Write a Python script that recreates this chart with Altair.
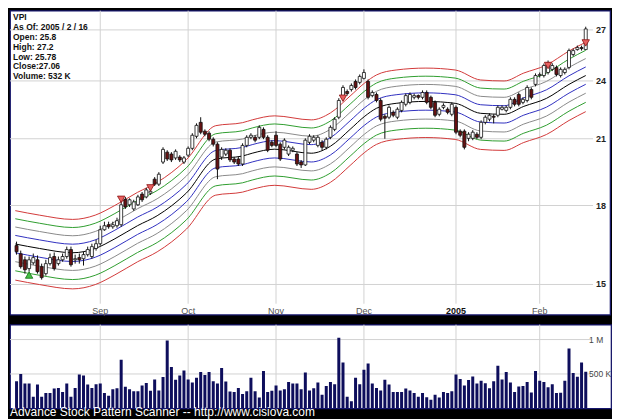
import altair as alt
import pandas as pd

# ---------------- data ----------------
days = list(range(1, 139))  # trading-day index (1 = 2004-08-03 ... 138 = 2005-02-16)

opens = [16.67,16.41,16.10,15.88,15.56,15.77,15.88,15.63,15.38,15.74,16.00,15.74,15.88,16.00,16.26,15.88,15.96,15.92,16.07,16.00,
         16.30,16.48,17.02,17.22,17.14,17.18,17.22,18.26,18.03,17.86,18.03,18.48,18.36,18.52,19.13,18.91,19.90,20.36,20.27,20.09,
         20.13,19.90,20.22,20.54,21.12,21.81,21.37,21.27,20.98,20.74,20.13,20.27,20.45,20.04,20.04,19.81,20.68,21.07,21.07,21.07,
         21.46,21.07,20.83,21.17,20.74,20.59,20.27,20.45,20.27,19.90,19.77,20.83,20.93,20.68,20.83,20.59,21.07,21.46,22.07,23.06,
         23.42,23.53,23.97,23.92,24.14,23.97,23.20,23.26,22.94,22.12,22.07,22.32,22.07,22.42,22.74,22.84,23.11,23.20,23.11,23.37,
         23.11,22.84,22.22,22.58,22.48,22.22,22.58,21.37,21.37,21.02,21.02,21.22,21.07,21.81,21.97,22.12,22.17,22.48,22.42,22.58,
         23.00,23.26,22.84,22.94,23.53,23.81,24.30,24.30,24.47,24.65,24.76,24.30,24.47,24.76,25.51,25.80,25.92,25.80]
closes = [16.10,16.18,15.63,15.52,15.88,15.96,15.45,15.24,15.74,15.96,15.56,15.88,16.00,16.26,15.70,15.92,15.88,16.07,16.26,16.37,
          16.48,17.02,17.18,17.14,17.22,17.38,18.03,17.94,18.24,18.15,18.36,18.24,18.66,18.60,18.91,19.35,20.49,20.04,20.00,20.40,
          20.00,20.09,20.54,21.17,21.66,21.32,21.22,20.98,20.74,19.58,20.49,20.45,20.00,19.90,19.81,20.68,21.07,21.17,20.93,21.56,
          21.07,20.45,20.68,20.68,20.04,20.93,20.59,20.54,19.81,19.77,20.93,21.12,21.07,21.07,20.59,20.98,21.56,21.97,22.94,23.64,
          23.31,23.75,23.64,24.25,24.47,23.11,23.37,22.94,21.97,22.02,22.58,22.17,22.48,22.84,23.20,23.26,23.20,23.11,23.37,22.84,
          22.58,22.17,22.48,22.68,22.32,22.74,21.32,21.17,20.59,21.22,21.32,21.07,21.81,22.07,22.17,22.07,22.58,22.58,22.58,23.00,
          22.74,22.74,23.00,23.64,23.11,24.30,24.36,24.87,25.04,24.87,24.36,24.65,24.65,25.74,25.74,25.92,25.86,27.06]
highs = [16.79,16.56,16.22,16.00,16.00,16.11,16.04,15.74,15.88,16.11,16.15,16.00,16.11,16.37,16.37,16.07,16.11,16.18,16.37,16.48,
         16.64,17.18,17.34,17.34,17.34,17.50,18.20,18.36,18.30,18.24,18.45,18.57,18.75,18.70,19.22,19.44,20.59,20.45,20.36,20.49,
         20.22,20.18,20.63,21.27,21.76,22.07,21.46,21.37,21.07,20.83,20.59,20.54,20.54,20.13,20.13,20.78,21.17,21.27,21.17,21.66,
         21.56,21.17,20.93,21.37,20.83,21.02,20.68,20.63,20.36,19.99,21.02,21.22,21.17,21.17,20.93,21.07,21.66,22.07,23.06,23.76,
         23.53,23.86,24.08,24.36,24.65,24.08,23.48,23.37,23.06,22.22,22.68,22.42,22.58,22.94,23.31,23.37,23.31,23.26,23.48,23.48,
         23.20,22.94,22.58,22.79,22.58,22.84,22.68,21.46,21.46,21.32,21.42,21.32,21.91,22.17,22.27,22.22,22.68,22.68,22.68,23.11,
         23.11,23.37,23.11,23.76,23.64,24.42,24.47,24.98,25.16,25.00,24.87,24.76,24.76,25.86,25.86,26.04,26.04,27.20]
lows = [16.00,16.07,15.56,15.38,15.45,15.70,15.38,15.17,15.31,15.67,15.49,15.67,15.81,15.92,15.63,15.74,15.74,15.67,16.00,15.92,
        16.22,16.41,16.98,17.06,17.06,17.10,17.14,17.86,17.94,17.78,17.98,18.15,18.30,18.45,18.83,18.83,19.81,19.95,19.90,20.00,
        19.90,19.81,20.13,20.45,21.02,21.22,21.12,20.88,20.63,19.13,20.00,20.18,19.90,19.81,19.72,19.72,20.59,20.98,20.83,20.98,
        20.98,20.36,20.59,20.59,19.95,20.49,20.18,20.36,19.72,19.63,19.72,20.74,20.83,20.59,20.45,20.49,20.98,21.37,21.97,22.94,
        23.20,23.42,23.53,23.81,24.08,23.00,23.11,22.84,21.86,21.00,21.97,22.07,21.97,22.32,22.63,22.74,23.00,23.00,23.00,22.74,
        22.48,22.07,22.12,22.48,22.22,22.12,21.22,21.07,20.49,20.88,20.93,20.98,20.98,21.71,21.86,21.76,22.07,22.42,22.32,22.48,
        22.63,22.63,22.74,22.84,23.00,23.70,24.19,24.19,24.36,24.55,24.25,24.19,24.36,24.65,25.40,25.74,25.74,25.78]
vol_k = [444,394,500,361,361,167,347,167,222,222,287,296,236,361,167,296,491,477,347,296,
         352,361,222,185,278,292,708,315,278,250,250,333,370,255,421,259,454,986,602,417,
         477,551,421,375,444,528,486,528,394,361,588,389,245,236,296,208,250,444,250,157,
         542,236,255,333,259,278,384,361,361,278,523,259,292,375,199,324,384,352,1028,667,
         167,102,444,352,560,653,361,296,259,417,347,236,236,236,287,259,222,167,222,162,
         125,199,157,236,222,250,491,426,333,412,463,361,403,366,292,394,620,421,528,375,
         236,319,324,384,231,542,403,384,306,352,222,227,403,870,514,458,667,532]

# moving-average centre line read at a few points, and envelope offsets (%)
mid_idx = [1.7, 7.5, 15.4, 20.8, 25.5, 30.9, 35.6, 42.6, 49.6, 56.0, 58.3, 63.7, 72.4, 77.0, 81.7, 85.2, 88.0,
           92.7, 99.8, 106.8, 112.9, 118.5, 123.2, 128.6, 134.0, 138]
mid_val = [16.47, 16.30, 16.14, 16.30, 16.67, 17.18, 17.58, 18.53, 20.04, 20.18, 20.31, 20.50, 20.31, 20.64, 21.46,
           22.12, 22.53, 22.79, 22.89, 22.79, 22.27, 22.22, 22.63, 23.05, 23.81, 24.30]
band_pct = [8, 6, 4, 2, 0, -2, -4, -6, -8]
band_col = ["#d23a3a", "#2f9e2f", "#8a8a8a", "#3030c0", "#000000", "#3030c0", "#8a8a8a", "#2f9e2f", "#d23a3a"]

sig_down_idx = [27, 34, 80, 129, 138]
sig_down_val = [18.26, 18.75, 23.06, 24.87, 26.20]
sig_up_idx = [5]
sig_up_val = [15.33]

month_idx = [22, 43, 64, 85, 107, 127]
month_names = ["Sep", "Oct", "Nov", "Dec", "2005", "Feb"]
price_ticks = [15, 18, 21, 24, 27]
vol_ticks = [500, 1000]
vol_tick_labels = ["500 K", "1 M"]
info_lines = ["VPI", "As Of: 2005 / 2 / 16", "Open: 25.8", "High: 27.2", "Low: 25.78", "Close:27.06", "Volume: 532 K"]
footer = "Advance Stock Pattern Scanner -- http://www.cisiova.com"

# ---------------- tables ----------------
candles = pd.DataFrame({"i": days, "o": opens, "h": highs, "l": lows, "c": closes, "v": vol_k})
candles["lo"] = candles[["o", "c"]].min(axis=1)
candles["hi"] = candles[["o", "c"]].max(axis=1)
candles["dir"] = ["up" if c >= o else "down" for o, c in zip(opens, closes)]

band_rows = []
for p in band_pct:
    for i, m in zip(mid_idx, mid_val):
        band_rows.append({"i": i, "val": m * (1 + p / 100.0), "pct": p})
bands = pd.DataFrame(band_rows)

months = pd.DataFrame({"i": month_idx, "name": month_names,
                       "bold": [n == "2005" for n in month_names]})
pticks = pd.DataFrame({"p": price_ticks, "lab": [str(t) for t in price_ticks]})
vticks = pd.DataFrame({"v": vol_ticks, "lab": vol_tick_labels})
sdown = pd.DataFrame({"i": sig_down_idx, "p": sig_down_val})
sup = pd.DataFrame({"i": sig_up_idx, "p": sig_up_val})
info = pd.DataFrame({"t": ["\n".join(info_lines)]})
foot = pd.DataFrame({"t": [footer]})

PW, PH = 602, 305
VW, VH = 603, 84
PX = 4.27  # pixels per trading day
x0 = 1.625  # first visible trading-day position at the left edge
xs_p = alt.Scale(domain=[x0, x0 + PW / PX], nice=False, zero=False)
xs_v = alt.Scale(domain=[x0, x0 + VW / PX], nice=False, zero=False)
ys_p = alt.Scale(type="log", domain=[13.99, 28.226], nice=False)
ys_v = alt.Scale(domain=[0, 1217], nice=False, zero=True)
GRID = "#d2d2d2"
VISIBLE = "datum.i >= 2"  # day 1 lies left of the visible window

# ---------------- price panel ----------------
vgrid = alt.Chart(months).mark_rule(color=GRID, strokeWidth=1).encode(
    x=alt.X("i:Q", scale=xs_p, axis=None), y=alt.value(0), y2=alt.value(294))
hgrid = alt.Chart(pticks).mark_rule(color=GRID, strokeWidth=1).encode(
    y=alt.Y("p:Q", scale=ys_p, axis=None), x=alt.value(0), x2=alt.value(585))
band_lines = alt.Chart(bands).mark_line(interpolate="monotone", strokeWidth=1, clip=True).encode(
    x=alt.X("i:Q", scale=xs_p, axis=None),
    y=alt.Y("val:Q", scale=ys_p, axis=None),
    color=alt.Color("pct:O", scale=alt.Scale(domain=band_pct, range=band_col), legend=None),
    detail="pct:O")
wicks = alt.Chart(candles).transform_filter(VISIBLE).mark_rule(
    color="#111111", strokeWidth=1, clip=True).encode(
    x=alt.X("i:Q", scale=xs_p, axis=None),
    y=alt.Y("l:Q", scale=ys_p, axis=None), y2="h:Q")
bodies = alt.Chart(candles).transform_filter(VISIBLE).mark_bar(
    size=3, stroke="#111111", strokeWidth=0.8, clip=True).encode(
    x=alt.X("i:Q", scale=xs_p, axis=None),
    y=alt.Y("lo:Q", scale=ys_p, axis=None), y2="hi:Q",
    fill=alt.Fill("dir:N", scale=alt.Scale(domain=["up", "down"], range=["white", "#661111"]), legend=None))
tri_down = alt.Chart(sdown).mark_point(shape="triangle-down", filled=True, size=55, fill="#e86060",
                                       stroke="#8a1010", strokeWidth=0.8, opacity=1).encode(
    x=alt.X("i:Q", scale=xs_p, axis=None), y=alt.Y("p:Q", scale=ys_p, axis=None))
tri_up = alt.Chart(sup).mark_point(shape="triangle-up", filled=True, size=55, fill="#44c044",
                                   stroke="#107010", strokeWidth=0.8, opacity=1).encode(
    x=alt.X("i:Q", scale=xs_p, axis=None), y=alt.Y("p:Q", scale=ys_p, axis=None))
plabels = alt.Chart(pticks).mark_text(align="left", baseline="middle", fontSize=9, fontWeight="bold",
                                      color="#222222", font="Liberation Sans").encode(
    y=alt.Y("p:Q", scale=ys_p, axis=None), x=alt.value(588), text="lab:N")
mlab_norm = alt.Chart(months).transform_filter("!datum.bold").mark_text(
    baseline="middle", fontSize=9, color="#555555", font="Liberation Sans").encode(
    x=alt.X("i:Q", scale=xs_p, axis=None), y=alt.value(301), text="name:N")
mlab_bold = alt.Chart(months).transform_filter("datum.bold").mark_text(
    baseline="middle", fontSize=9, fontWeight="bold", color="#111111", font="Liberation Sans").encode(
    x=alt.X("i:Q", scale=xs_p, axis=None), y=alt.value(301), text="name:N")
info_txt = alt.Chart(info).mark_text(align="left", baseline="top", fontSize=8.5, fontWeight="bold",
                                     lineBreak="\n", lineHeight=10, color="#111111",
                                     font="Liberation Sans").encode(
    x=alt.value(3), y=alt.value(2), text="t:N")

price = alt.layer(vgrid, hgrid, band_lines, wicks, bodies, tri_down, tri_up,
                  plabels, mlab_norm, mlab_bold, info_txt).properties(width=PW, height=PH)

# ---------------- volume panel ----------------
vgrid2 = alt.Chart(months).mark_rule(color=GRID, strokeWidth=1).encode(
    x=alt.X("i:Q", scale=xs_v, axis=None), y=alt.value(0), y2=alt.value(VH))
hgrid2 = alt.Chart(vticks).mark_rule(color=GRID, strokeWidth=1).encode(
    y=alt.Y("v:Q", scale=ys_v, axis=None), x=alt.value(0), x2=alt.value(583))
vbars = alt.Chart(candles).transform_filter(VISIBLE).mark_bar(size=3, color="#0e0e5c", clip=True).encode(
    x=alt.X("i:Q", scale=xs_v, axis=None), y=alt.Y("v:Q", scale=ys_v, axis=None))
vlabels = alt.Chart(vticks).mark_text(align="left", baseline="middle", fontSize=8.5, color="#444444",
                                      font="Liberation Sans").encode(
    y=alt.Y("v:Q", scale=ys_v, axis=None), x=alt.value(581), text="lab:N")
foot_txt = alt.Chart(foot).mark_text(align="left", baseline="alphabetic", fontSize=12, color="white",
                                     font="Liberation Sans").encode(
    x=alt.value(0), y=alt.value(92), text="t:N")

volume = alt.layer(vgrid2, hgrid2, vbars, vlabels, foot_txt).properties(width=VW, height=VH)

chart = alt.vconcat(price, volume, spacing=6).resolve_scale(
    x="independent", y="independent", color="independent", fill="independent"
).properties(padding=0, background="black").configure_view(
    fill="white", stroke="#16166e", strokeWidth=1.2)

chart.save("out.html", embed_options={"renderer": "svg", "actions": False})
